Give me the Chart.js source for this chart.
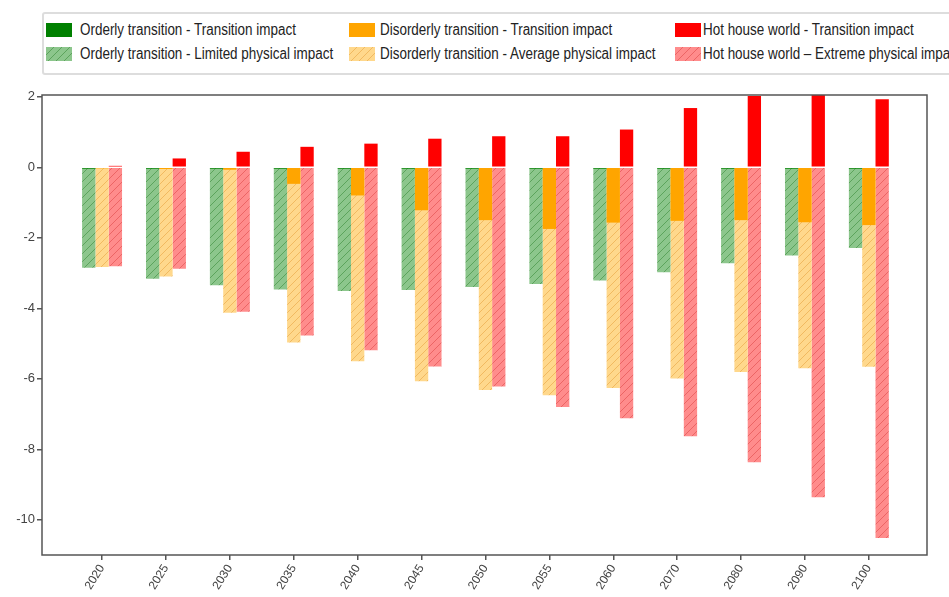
<!DOCTYPE html>
<html>
<head>
<meta charset="utf-8">
<script src="https://cdn.jsdelivr.net/npm/chart.js@4"></script>
<style>
  html, body { margin: 0; padding: 0; background: #fff; overflow: hidden; }
  #wrap { position: relative; width: 949px; height: 597px; }
  #legend {
    position: absolute; left: 42px; top: 12px; width: 930px; height: 59px;
    border: 2px solid #ddd; border-radius: 3px; background: #fff;
    font-family: "Liberation Sans", Arial, sans-serif;
    font-size: 16px; color: #222;
  }
  .sw { position: absolute; width: 26px; height: 14px; }
  .txt { position: absolute; white-space: nowrap; line-height: 20px; transform: scaleX(0.84); transform-origin: 0 50%; }
</style>
</head>
<body>
<div id="wrap">
  <canvas id="c" width="949" height="597"></canvas>
  <div id="legend"></div>
</div>
<script>
const years = ["2020", "2025", "2030", "2035", "2040", "2045", "2050", "2055", "2060", "2070", "2080", "2090", "2100"];

const orderlyTransition = [-0.04, -0.04, -0.04, -0.04, -0.04, -0.04, -0.04, -0.04, -0.04, -0.04, -0.04, -0.04, -0.04];
const orderlyPhysical = [-2.85, -3.16, -3.35, -3.47, -3.51, -3.48, -3.40, -3.31, -3.21, -2.98, -2.72, -2.50, -2.29];
const disorderlyTransition = [-0.03, -0.05, -0.07, -0.47, -0.80, -1.22, -1.50, -1.75, -1.57, -1.52, -1.50, -1.56, -1.64];
const disorderlyPhysical = [-2.83, -3.10, -4.13, -4.97, -5.50, -6.07, -6.32, -6.47, -6.26, -5.99, -5.81, -5.70, -5.66];
const hotTransition = [0.04, 0.25, 0.44, 0.58, 0.67, 0.81, 0.88, 0.88, 1.07, 1.68, 2.02, 2.10, 1.93];
const hotPhysical = [-2.81, -2.88, -4.10, -4.77, -5.19, -5.65, -6.22, -6.80, -7.12, -7.63, -8.37, -9.36, -10.52];

const canvas = document.getElementById("c");
const ctx = canvas.getContext("2d");

function hatch(fill, line) {
  const tile = document.createElement("canvas");
  tile.width = 8; tile.height = 8;
  const g = tile.getContext("2d");
  g.fillStyle = fill;
  g.fillRect(0, 0, 8, 8);
  g.strokeStyle = line;
  g.lineWidth = 1;
  g.beginPath();
  g.moveTo(0, 8); g.lineTo(8, 0);
  g.moveTo(-1, 1); g.lineTo(1, -1);
  g.moveTo(7, 9); g.lineTo(9, 7);
  g.stroke();
  return tile;
}

const tiles = {
  green: hatch("rgb(140,198,140)", "rgba(60,140,60,0.6)"),
  orange: hatch("rgb(255,216,140)", "rgba(230,160,60,0.55)"),
  red: hatch("rgb(255,140,140)", "rgba(220,70,70,0.55)")
};

function pts(arr) {
  return arr.map((v, i) => ({ x: i, y: v }));
}

const datasets = [
  { label: "Orderly transition - Transition impact", data: pts(orderlyTransition), backgroundColor: "#008000", stack: "o", order: 0 },
  { label: "Disorderly transition - Transition impact", data: pts(disorderlyTransition), backgroundColor: "#FFA500", stack: "d", order: 0 },
  { label: "Hot house world - Transition impact", data: pts(hotTransition), backgroundColor: "#FF0000", stack: "h", order: 0 },
  { label: "Orderly transition - Limited physical impact", data: pts(orderlyPhysical), backgroundColor: ctx.createPattern(tiles.green, "repeat"), tile: tiles.green, stack: "o", order: 1 },
  { label: "Disorderly transition - Average physical impact", data: pts(disorderlyPhysical), backgroundColor: ctx.createPattern(tiles.orange, "repeat"), tile: tiles.orange, stack: "d", order: 1 },
  { label: "Hot house world \u2013 Extreme physical impact", data: pts(hotPhysical), backgroundColor: ctx.createPattern(tiles.red, "repeat"), tile: tiles.red, stack: "h", order: 1 }
];

// legend: 3 columns x 2 rows
const legendCols = [
  { sw: 2, txt: 36 },
  { sw: 305, txt: 336 },
  { sw: 631, txt: 659 }
];
const legendRows = [6, 30];
const legend = document.getElementById("legend");
datasets.forEach((ds, i) => {
  const col = legendCols[i % 3], row = legendRows[Math.floor(i / 3)];
  const sw = document.createElement("canvas");
  sw.className = "sw";
  sw.width = 26; sw.height = 14;
  sw.style.left = col.sw + "px";
  sw.style.top = (row + 3) + "px";
  const sg = sw.getContext("2d");
  sg.fillStyle = ds.tile ? sg.createPattern(ds.tile, "repeat") : ds.backgroundColor;
  sg.fillRect(0, 0, 26, 14);
  legend.appendChild(sw);
  const t = document.createElement("div");
  t.className = "txt";
  t.style.left = col.txt + "px";
  t.style.top = row + "px";
  t.textContent = ds.label;
  legend.appendChild(t);
});

const framePlugin = {
  id: "frame",
  afterDatasetsDraw(chart) {
    const a = chart.chartArea;
    const c = chart.ctx;
    c.save();
    c.strokeStyle = "#555";
    c.lineWidth = 1.5;
    c.strokeRect(a.left, a.top, a.right - a.left, a.bottom - a.top);
    c.restore();
  }
};

const tickFont = { family: "'Liberation Sans', Arial, sans-serif", size: 13 };

new Chart(ctx, {
  type: "bar",
  data: { datasets },
  options: {
    responsive: false,
    animation: false,
    devicePixelRatio: 1,
    categoryPercentage: 0.625,
    barPercentage: 1,
    layout: { padding: { top: 95, right: 22, left: 0, bottom: 0 } },
    plugins: { legend: { display: false }, tooltip: { enabled: false } },
    scales: {
      x: {
        type: "linear",
        min: -0.94,
        max: 12.91,
        offset: false,
        stacked: true,
        grid: { offset: false, drawOnChartArea: false, tickLength: 5, color: "#555", lineWidth: 1.5 },
        border: { display: false },
        ticks: {
          stepSize: 1,
          includeBounds: false,
          autoSkip: false,
          minRotation: 58,
          maxRotation: 58,
          padding: 2,
          color: "#444",
          font: { family: tickFont.family, size: 12 },
          callback: v => years[v] ?? ""
        },
        afterFit: s => { s.height = 42; }
      },
      y: {
        min: -11,
        max: 2.05,
        stacked: false,
        grid: { drawOnChartArea: false, tickLength: 5, color: "#555", lineWidth: 1.5 },
        border: { display: false },
        ticks: { stepSize: 2, includeBounds: false, padding: 2, color: "#444", font: tickFont },
        afterFit: s => { s.width = 42; }
      }
    }
  },
  plugins: [framePlugin]
});
</script>
</body>
</html>
